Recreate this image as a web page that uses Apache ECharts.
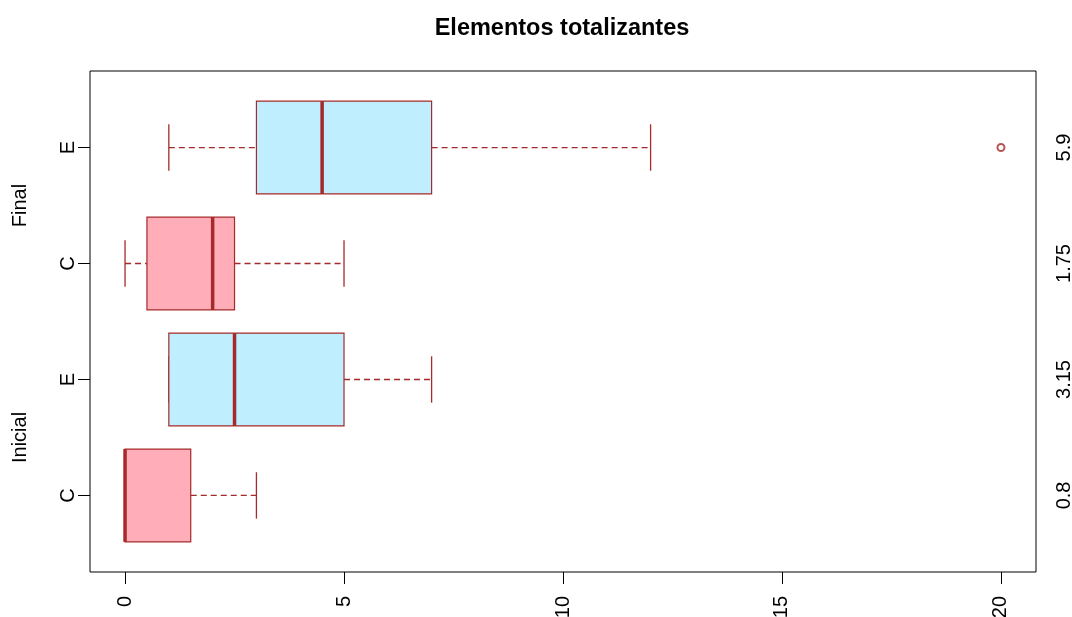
<!DOCTYPE html>
<html>
<head>
<meta charset="utf-8">
<script src="https://cdn.jsdelivr.net/npm/echarts@6/dist/echarts.min.js"></script>
<style>
  html, body { margin: 0; padding: 0; background: #fff; }
  #chart { width: 1072px; height: 617px; }
</style>
</head>
<body>
<div id="chart"></div>
<script>
// ---- data ----
const titleText = 'Elementos totalizantes';
const boxLabels = ['C', 'E', 'C', 'E'];           // bottom to top
const groupLabels = ['Inicial', 'Final'];
const groupPositions = [1.5, 3.5];
const positions = [1, 2, 3, 4];
const mins    = [0, 1, 0, 1];
const q1s     = [0, 1, 0.5, 3];
const medians = [0, 2.5, 2, 4.5];
const q3s     = [1.5, 5, 2.5, 7];
const maxs    = [3, 7, 5, 12];
const outliersX = [20];
const outliersY = [4];
const meanLabels = ['0.8', '3.15', '1.75', '5.9'];
const xTicks = [0, 5, 10, 15, 20];

// ---- styles ----
const fillByLabel = { C: '#FFAEB9', E: '#BFEFFF' };
const lineColor = '#A52A2A';
const font = 'Liberation Sans, Arial, sans-serif';

const boxData = positions.map((p, i) => [p, mins[i], q1s[i], medians[i], q3s[i], maxs[i], i]);
const outlierData = outliersX.map((x, i) => [x, outliersY[i]]);

function renderBox(params, api) {
  const y = api.value(0);
  const vmin = api.value(1), q1 = api.value(2), med = api.value(3), q3 = api.value(4), vmax = api.value(5);
  const idx = api.value(6);
  const hw = api.size([0, 0.4])[1];
  const cap = hw / 2;
  const pMin = api.coord([vmin, y]);
  const pQ1 = api.coord([q1, y]);
  const pMed = api.coord([med, y]);
  const pQ3 = api.coord([q3, y]);
  const pMax = api.coord([vmax, y]);
  const cy = pMin[1];
  const dashStyle = { stroke: lineColor, lineWidth: 1.3, lineDash: [6, 4] };
  const solid = { stroke: lineColor, lineWidth: 1.3 };
  return {
    type: 'group',
    children: [
      { type: 'line', shape: { x1: pMin[0], y1: cy, x2: pQ1[0], y2: cy }, style: dashStyle },
      { type: 'line', shape: { x1: pQ3[0], y1: cy, x2: pMax[0], y2: cy }, style: dashStyle },
      { type: 'line', shape: { x1: pMin[0], y1: cy - cap, x2: pMin[0], y2: cy + cap }, style: solid },
      { type: 'line', shape: { x1: pMax[0], y1: cy - cap, x2: pMax[0], y2: cy + cap }, style: solid },
      { type: 'rect', shape: { x: pQ1[0], y: cy - hw, width: pQ3[0] - pQ1[0], height: 2 * hw },
        style: { fill: fillByLabel[boxLabels[idx]], stroke: lineColor, lineWidth: 1.2 } },
      { type: 'line', shape: { x1: pMed[0], y1: cy - hw, x2: pMed[0], y2: cy + hw },
        style: { stroke: lineColor, lineWidth: 3.5 } }
    ]
  };
}

const chart = echarts.init(document.getElementById('chart'));
const yMin = 0.34, yMax = 4.66;
chart.setOption({
  animation: false,
  backgroundColor: '#fff',
  title: {
    text: titleText,
    left: 557,
    top: 12,
    textAlign: 'center',
    textStyle: { fontFamily: font, fontSize: 23.5, fontWeight: 'bold', color: '#000' }
  },
  grid: {
    left: 90, right: 36, top: 71, bottom: 45,
    show: true, borderColor: '#000', borderWidth: 1,
    outerBoundsMode: 'none'
  },
  xAxis: {
    type: 'value', min: -0.8, max: 20.8,
    axisLine: { show: false, onZero: false },
    splitLine: { show: false },
    axisTick: { show: true, customValues: xTicks, length: 12, lineStyle: { color: '#000', width: 1 } },
    axisLabel: { customValues: xTicks, rotate: 90, margin: 24, fontFamily: font, fontSize: 20, color: '#000',
      formatter: v => String(v) }
  },
  yAxis: [
    {
      type: 'value', min: yMin, max: yMax, position: 'left',
      axisLine: { show: false, onZero: false },
      splitLine: { show: false },
      axisTick: { show: true, customValues: positions, length: 12, lineStyle: { color: '#000', width: 1 } },
      axisLabel: { customValues: positions, rotate: 90, margin: 12, fontFamily: font, fontSize: 20, color: '#000',
        formatter: v => boxLabels[Math.round(v) - 1] }
    },
    {
      type: 'value', min: yMin, max: yMax, position: 'left',
      axisLine: { show: false, onZero: false },
      splitLine: { show: false },
      axisTick: { show: false },
      axisLabel: { customValues: groupPositions, rotate: 90, margin: 60, fontFamily: font, fontSize: 20, color: '#000',
        formatter: v => groupLabels[groupPositions.indexOf(v)] }
    },
    {
      type: 'value', min: yMin, max: yMax, position: 'right',
      axisLine: { show: false, onZero: false },
      splitLine: { show: false },
      axisTick: { show: false },
      axisLabel: { customValues: positions, rotate: 90, margin: 18, fontFamily: font, fontSize: 20, color: '#000',
        formatter: v => meanLabels[Math.round(v) - 1] }
    }
  ],
  series: [
    {
      type: 'custom',
      xAxisIndex: 0, yAxisIndex: 0,
      renderItem: renderBox,
      dimensions: ['pos', 'min', 'q1', 'med', 'q3', 'max', 'idx'],
      encode: { x: [1, 2, 3, 4, 5], y: 0 },
      data: boxData
    },
    {
      type: 'scatter',
      xAxisIndex: 0, yAxisIndex: 0,
      symbol: 'emptyCircle',
      symbolSize: 7,
      itemStyle: { color: lineColor, borderColor: lineColor, borderWidth: 1 },
      data: outlierData
    }
  ]
});
</script>
</body>
</html>
